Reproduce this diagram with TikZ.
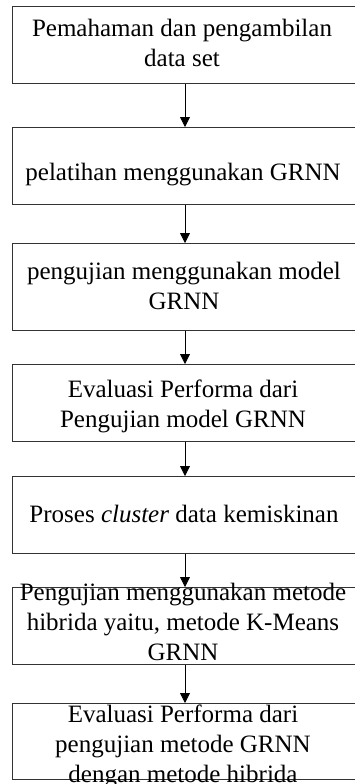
\documentclass[tikz,border=0pt]{standalone}
\usepackage{fontspec}
\setmainfont{Liberation Serif}
\usetikzlibrary{arrows.meta}
\newcommand{\firststrut}{\rule{0pt}{18pt}}
\begin{document}
\begin{tikzpicture}[x=1pt,y=-1pt,
  stepbox/.style={draw=black!80, line width=0.9pt, rectangle, inner sep=0pt, minimum width=348pt, anchor=north west},
  txt/.style={anchor=north, inner sep=0pt, align=center, font=\fontsize{25}{30}\selectfont},
  arr/.style={draw=black, line width=0.8pt, -{Triangle[width=10pt,length=10pt]}}]
\useasboundingbox (0,0) rectangle (355,784);
\clip (0,0) rectangle (355,784);
\fill[white] (0,0) rectangle (355,784);
\node[stepbox, minimum height=77pt] (b1) at (12,6) {};
\node[stepbox, minimum height=77pt] (b2) at (12,127) {};
\node[stepbox, minimum height=87pt] (b3) at (12,243) {};
\node[stepbox, minimum height=77pt] (b4) at (12,364) {};
\node[stepbox, minimum height=77pt] (b5) at (12,476) {};
\node[stepbox, minimum height=77pt] (b6) at (12,587) {};
\node[stepbox, minimum height=76pt] (b7) at (12,703) {};
\node[txt] (t1) at (182,18) {\firststrut Pemahaman dan pengambilan\\data set};
\node[txt] (t2) at (183,162) {\firststrut pelatihan menggunakan GRNN};
\node[txt] (t3) at (184,261) {\firststrut pengujian menggunakan model\\GRNN};
\node[txt] (t4) at (183,379) {\firststrut Evaluasi Performa dari\\Pengujian model GRNN};
\node[txt] (t5) at (184,504) {\firststrut Proses \textit{cluster} data kemiskinan};
\node[txt] (t6) at (183,582) {\firststrut Pengujian menggunakan metode\\hibrida yaitu, metode K-Means\\GRNN};
\node[txt] (t7) at (183,704) {\firststrut Evaluasi Performa dari\\pengujian metode GRNN\\dengan metode hibrida};
\coordinate (ax) at (185,0);
\draw[arr] (b1.south -| ax) -- (b2.north -| ax);
\draw[arr] (b2.south -| ax) -- (b3.north -| ax);
\draw[arr] (b3.south -| ax) -- (b4.north -| ax);
\draw[arr] (b4.south -| ax) -- (b5.north -| ax);
\draw[arr] (b5.south -| ax) -- (b6.north -| ax);
\draw[arr] (b6.south -| ax) -- (b7.north -| ax);
\end{tikzpicture}
\end{document}
